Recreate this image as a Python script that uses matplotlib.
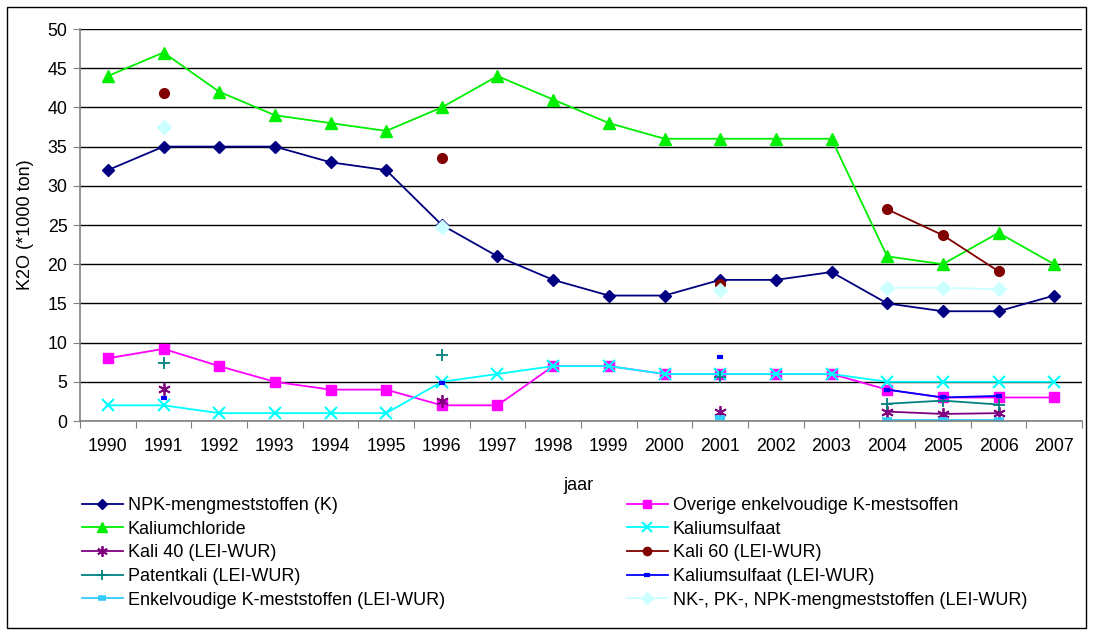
import numpy as np
import matplotlib
matplotlib.use("Agg")
import matplotlib.pyplot as plt
from matplotlib.patches import Rectangle

plt.rcParams['font.family'] = ['Liberation Sans', 'DejaVu Sans']

nan = np.nan
years = [str(y) for y in range(1990, 2008)]

npk = [32, 35, 35, 35, 33, 32, 25, 21, 18, 16, 16, 18, 18, 19, 15, 14, 14, 16]
overige = [8, 9.2, 7, 5, 4, 4, 2, 2, 7, 7, 6, 6, 6, 6, 4, 3, 3, 3]
kaliumchloride = [44, 47, 42, 39, 38, 37, 40, 44, 41, 38, 36, 36, 36, 36, 21, 20, 24, 20]
kaliumsulfaat = [2, 2, 1, 1, 1, 1, 5, 6, 7, 7, 6, 6, 6, 6, 5, 5, 5, 5]
kali40 = [nan, 4.1, nan, nan, nan, nan, 2.6, nan, nan, nan, nan, 1.2, nan, nan, 1.2, 0.9, 1.0, nan]
kali60 = [nan, 41.8, nan, nan, nan, nan, 33.5, nan, nan, nan, nan, 17.5, nan, nan, 27, 23.7, 19.1, nan]
patentkali = [nan, 7.4, nan, nan, nan, nan, 8.4, nan, nan, nan, nan, 5.6, nan, nan, 2.2, 2.6, 2.1, nan]
kaliumsulfaat_lei = [nan, 2.9, nan, nan, nan, nan, 4.9, nan, nan, nan, nan, 8.2, nan, nan, 4.0, 3.0, 3.2, nan]
enkelvoudig_lei = [nan, nan, nan, nan, nan, nan, nan, nan, nan, nan, nan, 0.4, nan, nan, 0.1, 0.1, 0.1, nan]
nk_pk_npk_lei = [nan, 37.5, nan, nan, nan, nan, 24.7, nan, nan, nan, nan, 16.7, nan, nan, 17, 17, 16.8, nan]

series = [
    ("NPK-mengmeststoffen (K)", npk, '#000080', 'D', 6, 1.0),
    ("Overige enkelvoudige K-mestsoffen", overige, '#FF00FF', 's', 7, 1.0),
    ("Kaliumchloride", kaliumchloride, '#00EE00', '^', 8, 1.0),
    ("Kaliumsulfaat", kaliumsulfaat, '#00FFFF', 'x', 8, 1.5),
    ("Kali 40 (LEI-WUR)", kali40, '#800080', (6, 2, 0), 9, 1.3),
    ("Kali 60 (LEI-WUR)", kali60, '#800000', 'o', 7, 1.0),
    ("Patentkali (LEI-WUR)", patentkali, '#008080', '+', 9, 1.3),
    ("Kaliumsulfaat (LEI-WUR)", kaliumsulfaat_lei, '#0000FF', '_', 5, 3.0),
    ("Enkelvoudige K-meststoffen (LEI-WUR)", enkelvoudig_lei, '#33CCFF', '_', 7, 4.0),
    ("NK-, PK-, NPK-mengmeststoffen (LEI-WUR)", nk_pk_npk_lei, '#CCFFFF', 'D', 7, 1.0),
]

W, H = 1093, 634
fig = plt.figure(figsize=(W / 100, H / 100), dpi=100)
fig.patches.append(Rectangle((7 / W, 1 - 628 / H), (1086 - 7) / W, (628 - 7) / H,
                             transform=fig.transFigure, fill=False, edgecolor='black',
                             linewidth=1.0))

ax = fig.add_axes([80 / W, 1 - 421 / H, (1082 - 80) / W, (421 - 29) / H])
x = np.arange(len(years))

handles = []
for label, vals, color, marker, ms, mew in series:
    h, = ax.plot(x, vals, color=color, lw=1.3, marker=marker, markersize=ms,
                 markeredgewidth=mew, markeredgecolor=color, markerfacecolor=color,
                 label=label)
    handles.append(h)

ax.set_xlim(-0.5, len(years) - 0.5)
ax.set_ylim(0, 50)
ax.set_yticks(np.arange(0, 51, 5))
ax.set_xticks(np.arange(-0.5, len(years), 1.0))
ax.set_xticklabels([])
ax.set_xticks(x, minor=True)
ax.set_xticklabels(years, minor=True)
ax.tick_params(axis='x', which='minor', length=0, pad=12, labelsize=12.8)
ax.tick_params(axis='x', which='major', length=5, color='#808080', direction='out')
ax.tick_params(axis='y', length=5, color='#808080', direction='out', labelsize=12.8, pad=4)
ax.yaxis.grid(True, color='black', lw=1.0)
ax.set_axisbelow(True)
for s in ['top', 'right']:
    ax.spines[s].set_visible(False)
for s in ['left', 'bottom']:
    ax.spines[s].set_color('#808080')
    ax.spines[s].set_linewidth(1.2)

fig.text(578 / W, 1 - 485 / H, 'jaar', ha='center', va='center', fontsize=13)
fig.text(26 / W, 1 - 225 / H, 'K2O (*1000 ton)', ha='center', va='center',
         rotation=90, fontsize=13)

left_h = handles[0::2]
right_h = handles[1::2]
common = dict(frameon=False, fontsize=13, handlelength=2.25, handletextpad=0.28,
              labelspacing=0.37, borderpad=0, borderaxespad=0, loc='upper left',
              markerscale=0.85)
fig.legend(left_h, [h.get_label() for h in left_h],
           bbox_to_anchor=(82 / W, 1 - 497 / H), **common)
fig.legend(right_h, [h.get_label() for h in right_h],
           bbox_to_anchor=(627 / W, 1 - 497 / H), **common)

fig.savefig('out.png', dpi=100)
